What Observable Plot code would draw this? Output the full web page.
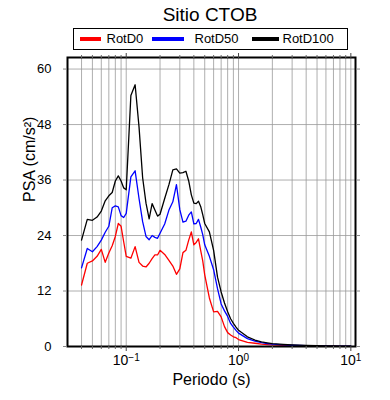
<!DOCTYPE html>
<html>
<head>
<meta charset="utf-8">
<script src="https://cdn.jsdelivr.net/npm/d3@7"></script>
<script src="https://cdn.jsdelivr.net/npm/@observablehq/plot@0.6"></script>
<style>
  body { margin: 0; background: #fff; font-family: "Liberation Sans", Arial, sans-serif; }
  #wrap { width: 390px; height: 400px; position: relative; }
  #head { position: relative; height: 52px; }
  #title { position: absolute; left: 0; width: 420px; top: 4px; text-align: center; font-size: 19px; color: #000; }
  #legend { position: absolute; left: 73px; top: 28px; width: 273px; height: 20px; border: 1.5px solid #000; }
  .sw { position: absolute; top: 8px; height: 4px; }
  .lt { position: absolute; top: 2px; font-size: 13px; color: #000; }
</style>
</head>
<body>
<div id="wrap">
  <div id="head">
    <div id="title">Sitio CTOB</div>
    <div id="legend"></div>
  </div>
  <div id="chart"></div>
</div>
<script>
// Data
const periods = [0.04,0.045,0.05,0.055,0.06,0.065,0.07,0.075,0.08,0.085,0.09,0.095,0.1,0.11,0.12,0.13,0.14,0.15,0.16,0.17,0.18,0.19,0.2,0.22,0.24,0.26,0.28,0.3,0.32,0.34,0.36,0.38,0.4,0.42,0.44,0.46,0.48,0.5,0.55,0.6,0.65,0.7,0.75,0.8,0.85,0.9,0.95,1.0,1.2,1.4,1.6,1.8,2,2.5,3,4,5,6,7,8,10];
const rotD0 = [13.3,18.0,18.5,19.5,21.0,18.2,20.2,21.8,23.8,26.6,26.0,22.6,19.5,19.1,21.6,18.2,17.4,17.2,18.0,19.0,19.8,19.8,20.8,19.9,18.6,17.4,15.6,16.8,20.3,20.8,23.0,24.8,22.0,22.5,23.3,20.8,18.5,15.5,10.5,7.5,7.6,6.4,4.3,3.0,2.5,2.1,1.9,1.5,0.9,0.7,0.5,0.4,0.33,0.25,0.2,0.12,0.08,0.06,0.05,0.04,0.03];
const rotD50 = [17.0,21.2,20.5,21.6,23.0,24.7,26.0,30.0,30.4,30.2,28.3,27.9,28.8,36.7,38.0,32.0,27.0,23.8,23.1,24.0,23.6,23.4,24.5,26.5,29.5,31.3,35.0,29.6,26.9,27.1,28.4,29.1,26.5,26.6,27.5,25.9,24.2,22.0,19.5,16.6,12.5,9.2,7.7,6.5,5.0,4.2,3.5,2.9,1.7,1.15,0.85,0.65,0.5,0.35,0.27,0.18,0.14,0.11,0.09,0.07,0.05];
const rotD100 = [23.0,27.5,27.3,28.0,29.3,31.5,32.6,33.3,35.8,36.9,35.8,34.3,33.9,54.3,56.6,47.5,36.5,31.0,27.6,30.9,29.5,28.2,28.6,32.0,35.0,38.2,38.4,37.5,37.6,37.9,35.8,32.8,31.0,30.9,31.4,30.3,28.5,26.6,24.8,20.8,15.0,11.8,9.4,7.5,6.0,5.0,4.2,3.5,2.1,1.4,1.0,0.8,0.6,0.45,0.35,0.25,0.2,0.15,0.12,0.1,0.08];
const seriesNames = ["RotD0", "RotD50", "RotD100"];
const seriesColors = ["#ff0000", "#0000ff", "#000000"];
const yTicks = [0, 12, 24, 36, 48, 60];
const xMajor = [0.1, 1, 10];
const xMinor = [0.04,0.05,0.06,0.07,0.08,0.09,0.2,0.3,0.4,0.5,0.6,0.7,0.8,0.9,2,3,4,5,6,7,8,9];
const xLabels = {"0.1": "-1", "1": "0", "10": "1"};

const seriesValues = [rotD0, rotD50, rotD100];
const rows = seriesValues.map(vals => periods.map((p, i) => ({period: p, psa: vals[i]})));

// legend
const legendPos = [[5.5, 21, 32.5], [77.5, 32, 120.5], [177.5, 27, 208.5]];
const lg = document.getElementById("legend");
seriesNames.forEach((n, i) => {
  const [x, w, tx] = legendPos[i];
  const s = document.createElement("div");
  s.className = "sw"; s.style.left = x + "px"; s.style.width = w + "px"; s.style.background = seriesColors[i];
  lg.appendChild(s);
  const t = document.createElement("div");
  t.className = "lt"; t.style.left = tx + "px"; t.textContent = n;
  lg.appendChild(t);
});

const gridAll = [...xMinor, ...xMajor];

const chart = Plot.plot({
  width: 390,
  height: 348,
  marginLeft: 67,
  marginRight: 35,
  marginTop: 5,
  marginBottom: 54,
  style: {fontFamily: "Liberation Sans, Arial, sans-serif", fontSize: "13px", color: "#000", background: "#fff"},
  x: {type: "log", domain: [0.03, 11]},
  y: {domain: [0, 62.5]},
  marks: [
    Plot.ruleX(gridAll, {stroke: "#999", strokeWidth: 0.8}),
    Plot.ruleY(yTicks.slice(1), {stroke: "#999", strokeWidth: 0.8}),
    ...rows.map((r, i) => Plot.line(r, {x: "period", y: "psa", stroke: seriesColors[i], strokeWidth: 1.3})),
    Plot.frame({stroke: "#000", strokeWidth: 2}),
    Plot.axisX(xMinor, {anchor: "bottom", tickSize: 3, tickFormat: () => "", stroke: "#666", label: null}),
    Plot.axisX(xMajor, {anchor: "bottom", tickSize: 5, tickPadding: 4, fontSize: 14, stroke: "#444", tickFormat: d => "10^" + xLabels[String(d)], label: null}),
    Plot.axisX(xMinor, {anchor: "top", tickSize: 3, tickFormat: () => "", stroke: "#666", label: null}),
    Plot.axisX(xMajor, {anchor: "top", tickSize: 5, tickFormat: () => "", stroke: "#444", label: null}),
    Plot.axisY(yTicks, {anchor: "left", tickSize: 4, tickPadding: 12, fontSize: 13, stroke: "#888", label: null}),
    Plot.axisY(yTicks, {anchor: "right", tickSize: 4, tickFormat: () => "", stroke: "#888", label: null}),
    Plot.text(["Periodo (s)"], {frameAnchor: "bottom", dy: 38, text: d => d, fontSize: 16}),
    Plot.text(["PSA (cm/s²)"], {frameAnchor: "left", dx: -38, rotate: -90, text: d => d, fontSize: 16})
  ]
});
document.getElementById("chart").appendChild(chart);

// turn "10^e" tick labels into superscripts
d3.select(chart).selectAll("text").each(function() {
  const t = this.textContent;
  if (/^10\^/.test(t)) {
    const e = t.split("^")[1].replace("-", "\u2212");
    const sel = d3.select(this);
    sel.text("10");
    sel.append("tspan").attr("dy", "-0.45em").attr("font-size", "10px").text(e);
  }
});
</script>
</body>
</html>
